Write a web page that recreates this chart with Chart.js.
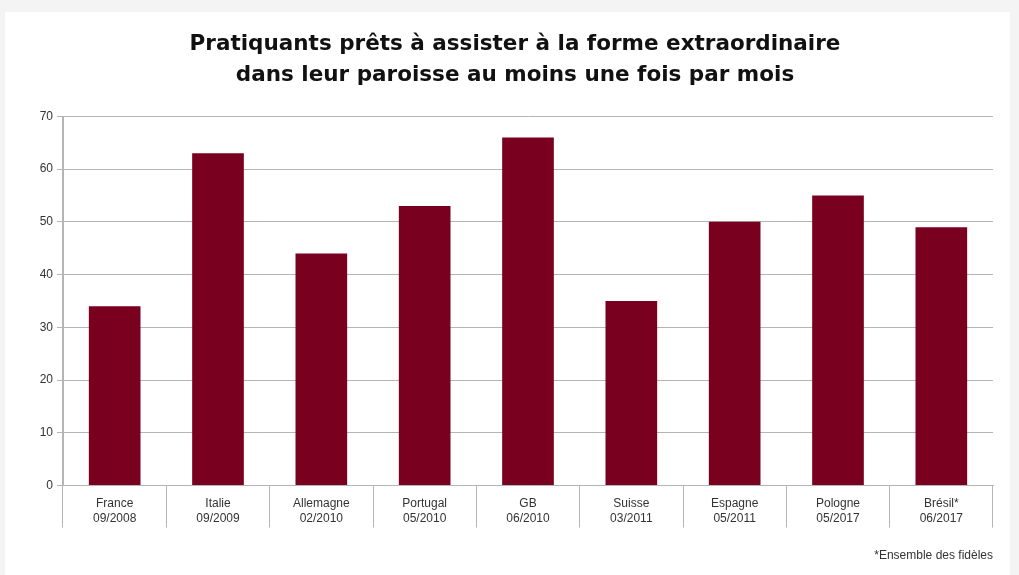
<!DOCTYPE html>
<html>
<head>
<meta charset="utf-8">
<script src="https://cdn.jsdelivr.net/npm/chart.js@4.4.0/dist/chart.umd.min.js"></script>
<style>
  html, body { margin: 0; padding: 0; background: #f4f4f4; }
  #card { position: absolute; left: 5px; top: 12px; width: 1005px; height: 563px; background: #ffffff; }
</style>
</head>
<body>
<div id="card"><canvas id="chart" width="1005" height="563"></canvas></div>
<script>
// Data
var countries = ['France', 'Italie', 'Allemagne', 'Portugal', 'GB', 'Suisse', 'Espagne', 'Pologne', 'Brésil*'];
var dates = ['09/2008', '09/2009', '02/2010', '05/2010', '06/2010', '03/2011', '05/2011', '05/2017', '06/2017'];
var values = [34, 63, 44, 53, 66, 35, 50, 55, 49];
var yTicks = [0, 10, 20, 30, 40, 50, 60, 70];

var labels = countries.map(function(c, i) { return [c, dates[i]]; });
var lineGray = '#b5b5b5';

new Chart(document.getElementById('chart'), {
    type: 'bar',
    data: {
        labels: labels,
        datasets: [{
            data: values,
            backgroundColor: '#7a0020',
            borderWidth: 0,
            barPercentage: 0.5,
            categoryPercentage: 1
        }]
    },
    options: {
        responsive: false,
        animation: false,
        // left padding pushes the title centre to the right like the original
        layout: { padding: { left: 32, right: 17, top: 0, bottom: 0 } },
        plugins: {
            legend: { display: false },
            tooltip: { enabled: false },
            title: {
                display: true,
                text: ['Pratiquants prêts à assister à la forme extraordinaire', 'dans leur paroisse au moins une fois par mois'],
                color: '#111',
                font: { family: 'DejaVu Sans', size: 21.5, weight: 'bold', lineHeight: 1.45 },
                padding: { top: 17, bottom: 25 }
            },
            subtitle: {
                display: true,
                position: 'bottom',
                align: 'end',
                text: '*Ensemble des fidèles',
                color: '#333',
                font: { family: 'Liberation Sans', size: 12 },
                padding: { top: 8, bottom: 12 }
            }
        },
        scales: {
            x: {
                grid: {
                    offset: true,
                    drawOnChartArea: true,
                    color: function(ctx) {
                        return (ctx.index === 0 || ctx.index === countries.length) ? lineGray : 'rgba(0,0,0,0)';
                    },
                    tickColor: lineGray,
                    tickLength: 42
                },
                border: { display: true, color: lineGray },
                ticks: {
                    color: '#333',
                    font: { family: 'Liberation Sans', size: 12 },
                    padding: -31,
                    maxRotation: 0
                },
                afterFit: function(scale) { scale.height = 55; }
            },
            y: {
                min: 0,
                max: 70,
                afterBuildTicks: function(scale) {
                    scale.ticks = yTicks.map(function(v) { return { value: v }; });
                },
                grid: { color: lineGray, tickLength: 6 },
                border: { color: lineGray },
                ticks: {
                    color: '#333',
                    font: { family: 'Liberation Sans', size: 12 },
                    padding: 4
                },
                afterFit: function(scale) { scale.width = 26; }
            }
        }
    }
});
</script>
</body>
</html>
